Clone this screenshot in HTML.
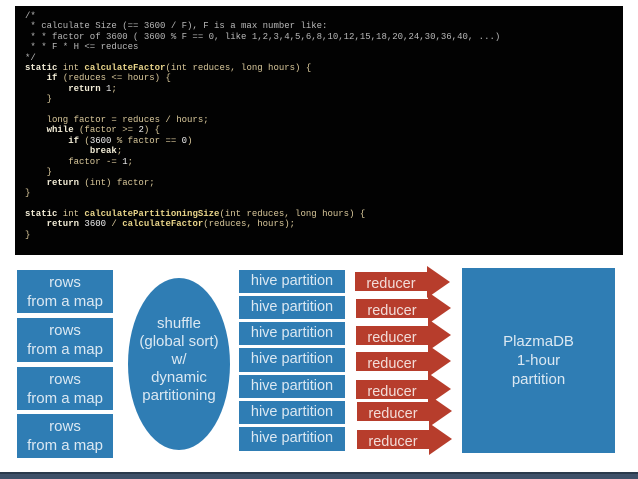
<!DOCTYPE html>
<html><head><meta charset="utf-8"><style>
html,body{margin:0;padding:0;width:638px;height:479px;overflow:hidden;background:#fff;position:relative;font-family:"Liberation Sans",sans-serif}
.code{position:absolute;left:15px;top:6px;width:608px;height:249px;background:#020202}
pre{position:absolute;left:25px;top:11px;margin:0;font-family:"Liberation Mono",monospace;font-size:9px;line-height:10.4px;color:#d8c79a}
.c{color:#b8b8b8}.k{color:#f2ecd6;font-weight:bold}.f{color:#e8d48a;font-weight:bold}.n{color:#eee}
.b{position:absolute;background:#2f7db4;color:#dbe8f2;text-align:center;font-size:15px}
.rows{left:17px;width:96px;line-height:19px;padding-top:3px;box-sizing:border-box}
.hive{left:239px;width:106px;height:23px;line-height:23px;font-size:14.5px}
.r{position:absolute}
.r .body{position:absolute;left:0;width:72px;height:19px;background:#b73d2c;color:#f2dcd8;font-size:14.5px;text-align:center;line-height:24px;overflow:hidden}
.r .head{position:absolute;left:72px;width:0;height:0;border-top:16px solid transparent;border-bottom:16px solid transparent;border-left:23px solid #b73d2c}
</style></head><body>
<div class="code"></div>
<pre><span class="c">/*
 * calculate Size (== 3600 / F), F is a max number like:
 * * factor of 3600 ( 3600 % F == 0, like 1,2,3,4,5,6,8,10,12,15,18,20,24,30,36,40, ...)
 * * F * H &lt;= reduces
*/</span>
<span class="k">static</span> int <span class="f">calculateFactor</span>(int reduces, long hours) {
    <span class="k">if</span> (reduces &lt;= hours) {
        <span class="k">return</span> <span class="n">1</span>;
    }

    long factor = reduces / hours;
    <span class="k">while</span> (factor &gt;= <span class="n">2</span>) {
        <span class="k">if</span> (<span class="n">3600</span> % factor == <span class="n">0</span>)
            <span class="k">break</span>;
        factor -= <span class="n">1</span>;
    }
    <span class="k">return</span> (int) factor;
}

<span class="k">static</span> int <span class="f">calculatePartitioningSize</span>(int reduces, long hours) {
    <span class="k">return</span> <span class="n">3600</span> / <span class="f">calculateFactor</span>(reduces, hours);
}</pre>

<div class="b rows" style="top:270px;height:43px">rows<br>from a map</div>
<div class="b rows" style="top:318px;height:44px">rows<br>from a map</div>
<div class="b rows" style="top:367px;height:43px">rows<br>from a map</div>
<div class="b rows" style="top:414px;height:44px">rows<br>from a map</div>

<div class="b" style="left:128px;top:278px;width:102px;height:172px;border-radius:50%;box-sizing:border-box;padding-top:37px;line-height:18px">shuffle<br>(global sort)<br>w/<br>dynamic<br>partitioning</div>

<div class="b hive" style="top:270px">hive partition</div>
<div class="b hive" style="top:296px">hive partition</div>
<div class="b hive" style="top:322px">hive partition</div>
<div class="b hive" style="top:348px;height:24px">hive partition</div>
<div class="b hive" style="top:375px">hive partition</div>
<div class="b hive" style="top:401px">hive partition</div>
<div class="b hive" style="top:427px;height:24px">hive partition</div>

<div class="r" style="left:355px;top:272px"><div class="body">reducer</div><div class="head" style="top:-6px"></div></div>
<div class="r" style="left:356px;top:299px"><div class="body">reducer</div><div class="head" style="top:-7px"></div></div>
<div class="r" style="left:356px;top:326px"><div class="body">reducer</div><div class="head" style="top:-7px"></div></div>
<div class="r" style="left:356px;top:352px"><div class="body">reducer</div><div class="head" style="top:-7px"></div></div>
<div class="r" style="left:356px;top:380px"><div class="body">reducer</div><div class="head" style="top:-7px"></div></div>
<div class="r" style="left:357px;top:402px"><div class="body">reducer</div><div class="head" style="top:-7px"></div></div>
<div class="r" style="left:357px;top:430px"><div class="body">reducer</div><div class="head" style="top:-7px"></div></div>

<div class="b" style="left:462px;top:268px;width:153px;height:185px;box-sizing:border-box;padding-top:64px;line-height:19px">PlazmaDB<br>1-hour<br>partition</div>

<div style="position:absolute;left:0;top:472px;width:638px;height:2px;background:#2a3a4c"></div>
<div style="position:absolute;left:0;top:474px;width:638px;height:5px;background:#3e5068"></div>
</body></html>
